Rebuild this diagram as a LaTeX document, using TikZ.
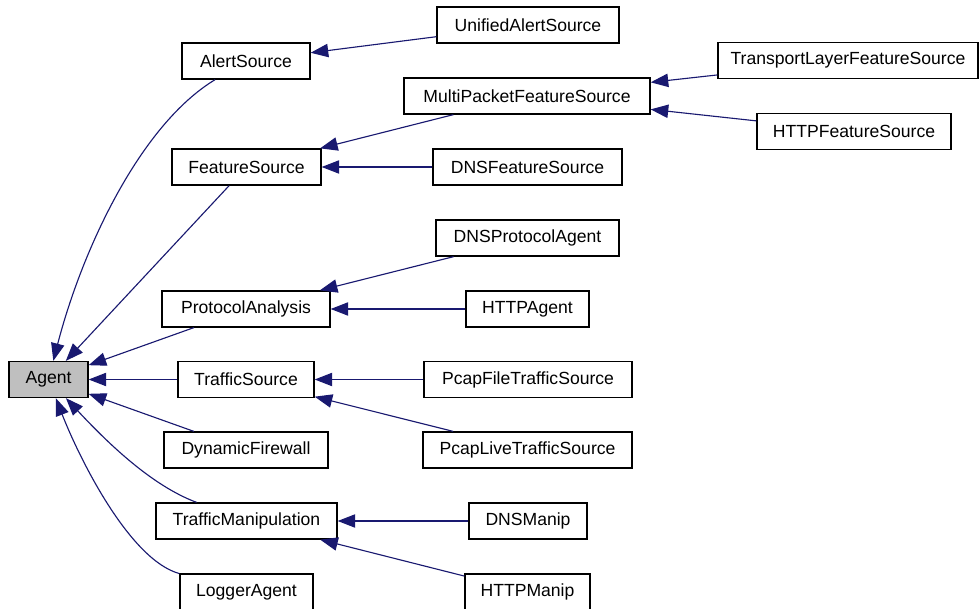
\documentclass[tikz,border=0pt]{standalone}
\usepackage{fontspec}
\setmainfont{Liberation Sans}
\usetikzlibrary{arrows.meta}
\definecolor{edgeblue}{HTML}{191970}
\definecolor{basegray}{HTML}{BFBFBF}

\begin{document}
\begin{tikzpicture}[x=0.025cm,y=-0.025cm,
	cls/.style={draw=black,line width=0.9pt,minimum height=0.9cm,inner sep=0pt,font=\fontsize{12.5}{14}\selectfont},
	inh/.style={draw=edgeblue,line width=0.8pt,-{Triangle[length=12.5pt,width=9.5pt]}}]
	\useasboundingbox (0,0) rectangle (979,609);

	\node[cls,fill=basegray,minimum width=1.975cm] (agent) at (48.5,379.5) {Agent};

	\node[cls,minimum width=3.2cm] (alert) at (246,61) {AlertSource};
	\node[cls,minimum width=3.725cm] (feature) at (246.5,167) {FeatureSource};
	\node[cls,minimum width=4.2cm] (protocol) at (246,309) {ProtocolAnalysis};
	\node[cls,minimum width=3.4cm] (traffic) at (246,379.5) {TrafficSource};
	\node[cls,minimum width=4.1cm] (firewall) at (246,450) {DynamicFirewall};
	\node[cls,minimum width=4.525cm] (manip) at (246.5,521) {TrafficManipulation};
	\node[cls,minimum width=3.325cm] (logger) at (246.5,592) {LoggerAgent};

	\node[cls,minimum width=4.55cm] (unified) at (528,25) {UnifiedAlertSource};
	\node[cls,minimum width=6.15cm] (multi) at (527,96) {MultiPacketFeatureSource};
	\node[cls,minimum width=4.725cm] (dnsfeature) at (527.5,167) {DNSFeatureSource};
	\node[cls,minimum width=4.575cm] (dnsprotocol) at (527.5,238) {DNSProtocolAgent};
	\node[cls,minimum width=3.075cm] (httpagent) at (527.5,309) {HTTPAgent};
	\node[cls,minimum width=5.2cm] (pcapfile) at (528,379.5) {PcapFileTrafficSource};
	\node[cls,minimum width=5.225cm] (pcaplive) at (527.5,450) {PcapLiveTrafficSource};
	\node[cls,minimum width=2.95cm] (dnsmanip) at (528,521) {DNSManip};
	\node[cls,minimum width=3.125cm] (httpmanip) at (527.5,592) {HTTPManip};

	\node[cls,minimum width=6.5cm] (transport) at (848,60.5) {TransportLayerFeatureSource};
	\node[cls,minimum width=4.85cm] (httpfeature) at (854,131.5) {HTTPFeatureSource};

	% edges into Agent
	\draw[inh] (alert) .. controls (140,125) and (82,250) .. (agent);
	\draw[inh] (feature) -- (agent);
	\draw[inh] (protocol) -- (agent);
	\draw[inh] (traffic) -- (agent);
	\draw[inh] (firewall) -- (agent);
	\draw[inh] (manip) .. controls (150,485) and (105,440) .. (agent);
	\draw[inh] (logger) .. controls (130,560) and (80,460) .. (agent);

	% second level
	\draw[inh] (unified) -- (alert);
	\draw[inh] (multi) -- (feature);
	\draw[inh] (dnsfeature) -- (feature);
	\draw[inh] (dnsprotocol) -- (protocol);
	\draw[inh] (httpagent) -- (protocol);
	\draw[inh] (pcapfile) -- (traffic);
	\draw[inh] (pcaplive) -- (traffic);
	\draw[inh] (dnsmanip) -- (manip);
	\draw[inh] (httpmanip) -- (manip);

	% third level
	\draw[inh] (transport) -- (multi);
	\draw[inh] (httpfeature) -- (multi);
\end{tikzpicture}
\end{document}
